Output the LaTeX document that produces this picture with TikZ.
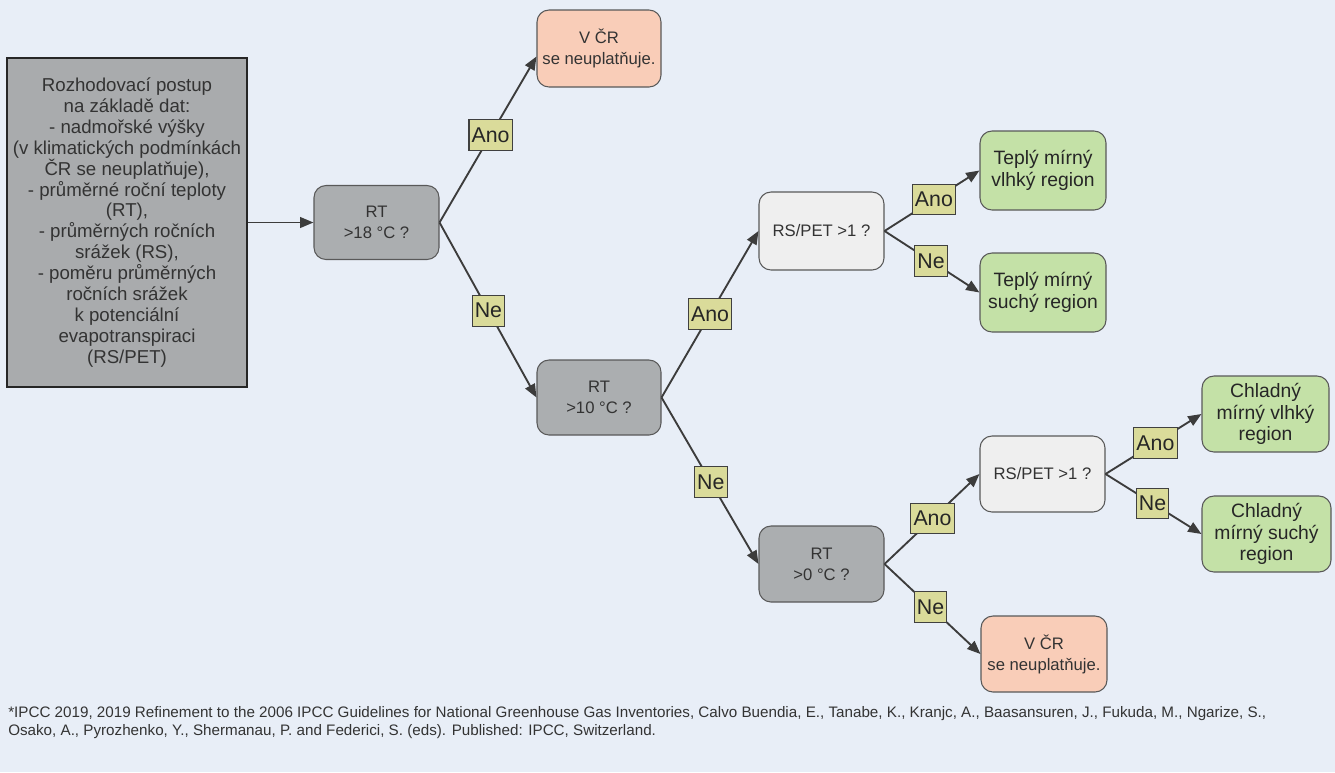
\documentclass[tikz,border=0pt]{standalone}
\usepackage{fontspec}
\setmainfont{Liberation Sans}
\usetikzlibrary{arrows.meta}
\definecolor{bg}{HTML}{E8EEF7}
\definecolor{infoc}{HTML}{A9ABAD}
\definecolor{qc}{HTML}{ABAEB0}
\definecolor{rsc}{HTML}{EFEFEF}
\definecolor{redc}{HTML}{F9CDB8}
\definecolor{grc}{HTML}{C4E1A7}
\definecolor{labc}{HTML}{DADB9A}
\definecolor{arrc}{HTML}{3C3C3C}
\definecolor{txtc}{HTML}{333333}
\begin{document}
\begin{tikzpicture}[x=0.75pt,y=-0.75pt,
  box/.style={draw=black!65, line width=0.8pt, rounded corners=9pt, align=center,
    font=\fontsize{12.5}{15.75}\selectfont, text=txtc, inner sep=1pt},
  qbox/.style={box, fill=qc},
  rsbox/.style={box, fill=rsc},
  redbox/.style={box, fill=redc},
  grbox/.style={box, fill=grc, text=black!85, font=\fontsize{14.5}{16}\selectfont},
  lab/.style={draw=black!75, fill=labc, line width=0.8pt, font=\fontsize{16}{18}\selectfont,
    text=black!85, inner xsep=2pt, inner ysep=0pt, minimum height=23pt},
  arr/.style={draw=arrc, line width=1.4pt, -{Triangle[length=10pt,width=8pt]}}
]
\fill[bg] (0,0) rectangle (1335,772);
\useasboundingbox (0,0) rectangle (1335,772);

\node[draw=black!85, line width=1.3pt, fill=infoc, minimum width=180pt, minimum height=246.75pt,
  align=center, font=\fontsize{14}{15.7}\selectfont, text=txtc, inner sep=0pt] (info) at (127,222.5)
  {Rozhodovací postup\\na základě dat:\\- nadmořské výšky\\(v klimatických podmínkách\\ČR se neuplatňuje),\\- průměrné roční teploty\\(RT),\\- průměrných ročních\\srážek (RS),\\- poměru průměrných\\ročních srážek\\k potenciální\\evapotranspiraci\\(RS/PET)};

\node[qbox, minimum width=93.75pt, minimum height=55.5pt] (rt18) at (376.5,222.5) {RT\\>18 °C ?};
\node[redbox, minimum width=93pt, minimum height=57.75pt] (red1) at (599,48.5) {V ČR\\se neuplatňuje.};
\node[qbox, minimum width=93pt, minimum height=56.25pt] (rt10) at (599,397.5) {RT\\>10 °C ?};
\node[rsbox, minimum width=93.75pt, minimum height=58.5pt] (rs1) at (821.5,231) {RS/PET >1 ?};
\node[grbox, minimum width=94.5pt, minimum height=59.25pt] (tv) at (1043,170.5) {Teplý mírný\\vlhký region};
\node[grbox, minimum width=94.5pt, minimum height=59.25pt] (ts) at (1043,292.5) {Teplý mírný\\suchý region};
\node[qbox, minimum width=93.75pt, minimum height=57pt] (rt0) at (821.5,564) {RT\\>0 °C ?};
\node[rsbox, minimum width=93.75pt, minimum height=57pt] (rs2) at (1042.5,474) {RS/PET >1 ?};
\node[grbox, minimum width=95.25pt, minimum height=57pt] (cv) at (1265.5,414) {Chladný\\mírný vlhký\\region};
\node[grbox, minimum width=96.75pt, minimum height=57pt] (cs) at (1266.5,534) {Chladný\\mírný suchý\\region};
\node[redbox, minimum width=94.5pt, minimum height=57pt] (red2) at (1044,654) {V ČR\\se neuplatňuje.};

\draw[arr] (info.east) -- (rt18.west);
\draw[arr] (rt18.east) -- ([yshift=-6pt]red1.west) node[lab, pos=0.527] (l1) {Ano};
\draw[arr] (rt18.east) -- (rt10.west) node[lab, pos=0.504] (l2) {Ne};
\draw[arr] (rt10.east) -- (rs1.west) node[lab, pos=0.5] (l3) {Ano};
\draw[arr] (rt10.east) -- (rt0.west) node[lab, pos=0.508] (l4) {Ne};
\draw[arr] (rs1.east) -- (tv.west) node[lab, pos=0.52] (l5) {Ano};
\draw[arr] (rs1.east) -- (ts.west) node[lab, pos=0.49] (l6) {Ne};
\draw[arr] (rt0.east) -- (rs2.west) node[lab, pos=0.505] (l7) {Ano};
\draw[arr] (rt0.east) -- (red2.west) node[lab, pos=0.48] (l8) {Ne};
\draw[arr] (rs2.east) -- (cv.west) node[lab, pos=0.52] (l9) {Ano};
\draw[arr] (rs2.east) -- (cs.west) node[lab, pos=0.49] (l10) {Ne};

\node[anchor=north west, align=left, inner sep=0pt, text=txtc,
  font=\fontsize{11.4}{13.5}\selectfont] (fn) at (8,706)
  {*IPCC 2019, 2019 Refinement to the 2006 IPCC Guidelines for National Greenhouse Gas Inventories, Calvo Buendia, E., Tanabe, K., Kranjc, A., Baasansuren, J., Fukuda, M., Ngarize, S.,\\Osako, A., Pyrozhenko, Y., Shermanau, P. and Federici, S. (eds). Published: IPCC, Switzerland.};
\end{tikzpicture}
\end{document}
